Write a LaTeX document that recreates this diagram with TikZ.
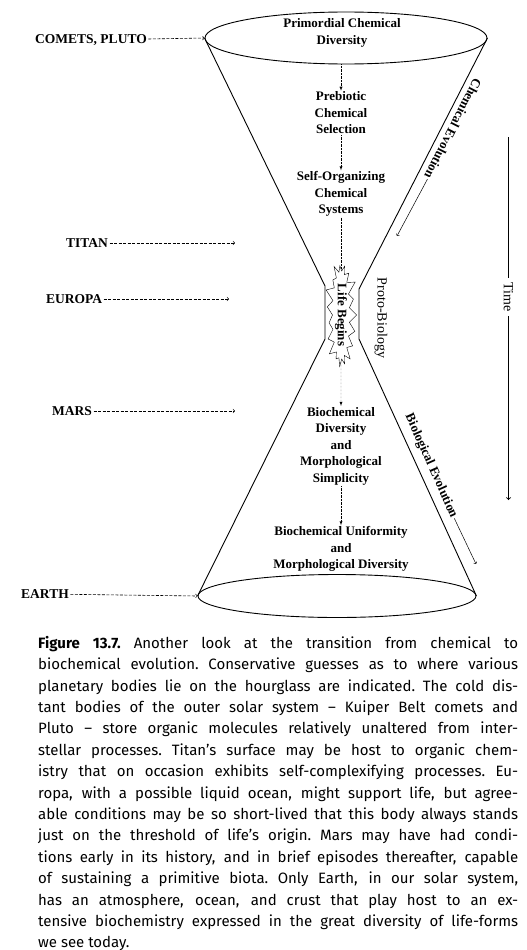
\documentclass[tikz,border=0pt]{standalone}
\usepackage{fontspec}
\setmainfont{Liberation Serif}
\newfontfamily\capfont{Fira Sans}
\usepackage{tikz}
\usetikzlibrary{calc,positioning,shapes,arrows}
\newcommand{\fillline}[1]{\leavevmode{\spaceskip=0.26em plus 1em minus 0.06em\xspaceskip=\spaceskip\hbox to 480pt{#1}}}

\begin{document}
\begin{tikzpicture}[x=1pt,y=-1pt,
		lbl/.style={font=\bfseries\fontsize{13}{16.5}\selectfont,align=center,inner sep=1pt},
		planet/.style={font=\bfseries\fontsize{13.5}{15}\selectfont,inner sep=1.5pt},
		reach/.style={dash pattern=on 3pt off 1.5pt,->,line width=0.6pt},
		flow/.style={densely dotted,-latex,thin},
		cone/.style={line width=0.9pt}]
		\useasboundingbox (0,0) rectangle (527,950);
		% the hourglass
		\node(top) at (346,38) [shape=ellipse,draw,cone,minimum width=282pt,minimum height=52pt,inner sep=0pt] {};
		\node(bot) at (337,596) [shape=ellipse,draw,cone,minimum width=278pt,minimum height=43pt,inner sep=0pt] {};
		\coordinate(nl1) at (325,286);
		\coordinate(nl2) at (325,339);
		\coordinate(nr1) at (359,289);
		\coordinate(nr2) at (359,339);
		\draw[cone] (top.west) -- (nl1) -- (nl2) -- (bot.west);
		\draw[cone] (top.east) -- (nr1) -- (nr2) -- (bot.east);
		% stages down the middle
		\node(1) at (342,33) [lbl] {Primordial Chemical\\Diversity};
		\node(2) at (341,113) [lbl] {Prebiotic\\Chemical\\Selection};
		\node(3) at (341,194) [lbl] {Self-Organizing\\Chemical\\Systems};
		\node(life) at (341,315) [shape=starburst,draw,thin,rotate=-90,starburst points=19,starburst point height=10pt,minimum width=108pt,minimum height=28pt,inner sep=0pt,font=\bfseries\fontsize{13}{15}\selectfont] {Life Begins};
		\node(4) at (341,446) [lbl] {Biochemical\\Diversity\\and\\Morphological\\Simplicity};
		\node(5) at (341,549) [lbl] {Biochemical Uniformity\\and\\Morphological Diversity};
		\draw[flow] (2 |- top.south) -- (2);
		\draw[flow] (2) -- (3);
		\draw[densely dotted,thin] (3) -- (life);
		\draw[flow] (life) -- (4);
		\draw[flow] (4) -- (5);
		% planetary bodies
		\node(comets) at (91,40) [planet] {COMETS, PLUTO};
		\draw[reach] (comets) -- (top.west);
		\node(titan) at (87,243) [planet] {TITAN};
		\coordinate(titanEnd) at (235,243);
		\draw[reach] (titan) -- (titanEnd);
		\node(europa) at (74,299) [planet] {EUROPA};
		\coordinate(europaEnd) at (229,299);
		\draw[reach] (europa) -- (europaEnd);
		\node(mars) at (72,411) [planet] {MARS};
		\coordinate(marsEnd) at (235,411);
		\draw[reach] (mars) -- (marsEnd);
		\node(earth) at (45,594) [planet] {EARTH};
		\draw[reach] (earth) -- (bot.west);
		% side labels
		\node(chem) at (453,129) [lbl,rotate=-117] {Chemical Evolution};
		\coordinate(chemEnd) at (397,236);
		\draw[->,line width=0.5pt] (chem.east) -- (chemEnd);
		\node(bio) at (431,466) [lbl,rotate=-66] {Biological Evolution};
		\coordinate(bioEnd) at (476,564);
		\draw[->,line width=0.5pt] (bio.east) -- (bioEnd);
		\node(proto) at (381,318) [rotate=-90,font=\fontsize{14}{15}\selectfont] {Proto-Biology};
		% time axis, label laid over it
		\coordinate(timeTop) at (508.5,137);
		\coordinate(timeEnd) at (508.5,500);
		\draw[->,line width=0.9pt] (timeTop) -- (timeEnd);
		\node(clock) at (508.5,297) [rotate=-90,fill=white,inner sep=4pt,font=\fontsize{14}{15}\selectfont] {Time};
		% caption
		\node(cap) at (38,636) [anchor=north west,inner sep=0pt,text width=480pt,align=left,font=\capfont\fontsize{15}{21.4}\selectfont] {%
			\fillline{{\bfseries Figure 13.7.} Another look at the transition from chemical to}\\
			\fillline{biochemical evolution. Conservative guesses as to where various}\\
			\fillline{planetary bodies lie on the hourglass are indicated. The cold dis-}\\
			\fillline{tant bodies of the outer solar system – Kuiper Belt comets and}\\
			\fillline{Pluto – store organic molecules relatively unaltered from inter-}\\
			\fillline{stellar processes. Titan’s surface may be host to organic chem-}\\
			\fillline{istry that on occasion exhibits self-complexifying processes. Eu-}\\
			\fillline{ropa, with a possible liquid ocean, might support life, but agree-}\\
			\fillline{able conditions may be so short-lived that this body always stands}\\
			\fillline{just on the threshold of life’s origin. Mars may have had condi-}\\
			\fillline{tions early in its history, and in brief episodes thereafter, capable}\\
			\fillline{of sustaining a primitive biota. Only Earth, in our solar system,}\\
			\fillline{has an atmosphere, ocean, and crust that play host to an ex-}\\
			\fillline{tensive biochemistry expressed in the great diversity of life-forms}\\
			{\spaceskip=0.26em plus 0.1em\xspaceskip=\spaceskip we see today.}};
	\end{tikzpicture}
\end{document}
